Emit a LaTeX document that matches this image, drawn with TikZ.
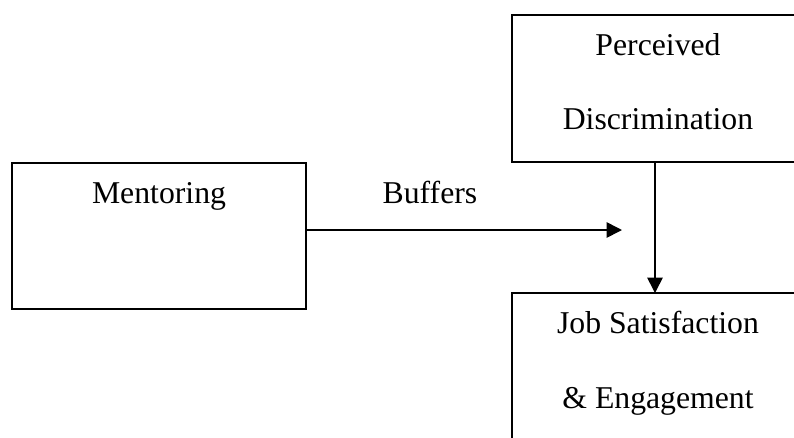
\documentclass[tikz,border=0pt]{standalone}
\usepackage{fontspec}
\setmainfont{Liberation Serif}
\usetikzlibrary{arrows.meta,calc}
\begin{document}
\begin{tikzpicture}[x=0.75pt, y=-0.75pt,
    box/.style={draw, line width=1.2pt, rectangle, inner sep=0pt, outer sep=0pt},
    lbl/.style={anchor=base, inner sep=0pt, font=\fontsize{23.8pt}{28pt}\selectfont},
    flow/.style={line width=1.2pt, -{Triangle[length=11.5pt, width=11.5pt]}}]
  \useasboundingbox (0,0) rectangle (794,437);
  \clip (0,0) rectangle (794,437);

  % Define the nodes
  \node[box, minimum width=220.5pt, minimum height=109.5pt] (ment) at (159,236) {};
  \node[box, minimum width=219pt, minimum height=110.25pt] (percept) at (658,88.5) {};
  \node[box, minimum width=219pt, minimum height=120pt] (job) at (658,373) {};

  % Texts inside the boxes
  \node[lbl] (mentT) at ($(ment.north)+(0,40)$) {Mentoring};
  \node[lbl] (perceptA) at ($(percept.north)+(0,40)$) {Perceived};
  \node[lbl] (perceptB) at ($(percept.north)+(0,114)$) {Discrimination};
  \node[lbl] (jobA) at ($(job.north)+(0,40)$) {Job Satisfaction};
  \node[lbl] (jobB) at ($(job.north)+(0,115)$) {\& Engagement};

  % Draw arrows between nodes
  \coordinate (bufend) at (622,230);
  \coordinate (drop) at (655,0);
  \draw[flow] (ment.east |- bufend) -- (bufend);
  \draw[flow] (percept.south -| drop) -- (job.north -| drop);

  % Label on the arrow
  \node[lbl] (buf) at (430,203) {Buffers};
\end{tikzpicture}
\end{document}
